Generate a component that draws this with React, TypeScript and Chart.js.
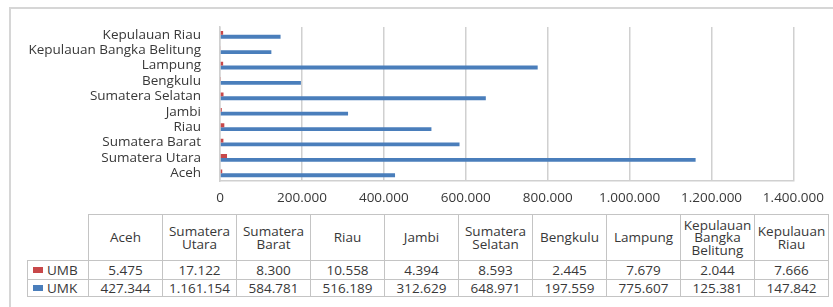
import React, { useEffect, useRef } from "react";
import { Chart, registerables } from "chart.js";

Chart.register(...registerables);

const categories = [
  "Aceh",
  "Sumatera Utara",
  "Sumatera Barat",
  "Riau",
  "Jambi",
  "Sumatera Selatan",
  "Bengkulu",
  "Lampung",
  "Kepulauan Bangka Belitung",
  "Kepulauan Riau",
];
const umb = [5475, 17122, 8300, 10558, 4394, 8593, 2445, 7679, 2044, 7666];
const umk = [427344, 1161154, 584781, 516189, 312629, 648971, 197559, 775607, 125381, 147842];
const xMax = 1400000;
const xStep = 200000;

const seriesNames = ["UMB", "UMK"];
const seriesColors = ["#C8484A", "#4A7EBB"];

const FONT = "'Open Sans', sans-serif";
const TEXT = "#383838";
const GRID = "#d0d0d0";

function fmt(n: number): string {
  return String(Math.round(n)).replace(/\B(?=(\d{3})+(?!\d))/g, ".");
}

export default function App() {
  const ref = useRef<HTMLCanvasElement | null>(null);

  useEffect(() => {
    document.body.style.margin = "0";
    if (!ref.current) return;
    const labels = categories.slice().reverse();
    const chart = new Chart(ref.current, {
      type: "bar",
      data: {
        labels,
        datasets: [
          {
            label: seriesNames[0],
            data: umb.slice().reverse(),
            backgroundColor: seriesColors[0],
            categoryPercentage: 0.5,
            barPercentage: 1,
          },
          {
            label: seriesNames[1],
            data: umk.slice().reverse(),
            backgroundColor: seriesColors[1],
            categoryPercentage: 0.5,
            barPercentage: 1,
          },
        ],
      },
      options: {
        indexAxis: "y",
        animation: false,
        responsive: false,
        devicePixelRatio: 1,
        layout: { padding: { top: 23, right: 38, left: 0, bottom: 0 } },
        plugins: { legend: { display: false }, tooltip: { enabled: false } },
        scales: {
          x: {
            min: 0,
            max: xMax,
            ticks: {
              stepSize: xStep,
              padding: 9,
              autoSkip: false,
              color: TEXT,
              font: { family: FONT, size: 13.5 },
              maxRotation: 0,
              callback: (v: any) => fmt(Number(v)),
            },
            grid: { color: GRID, lineWidth: 1.5, drawTicks: false },
            border: { display: true, color: GRID, width: 1.5 },
            afterFit: (s: any) => {
              s.height = 31;
            },
          },
          y: {
            ticks: {
              padding: 19,
              autoSkip: false,
              color: TEXT,
              font: { family: FONT, size: 13.5 },
            },
            grid: { display: false, drawTicks: false },
            border: { display: true, color: GRID, width: 1.5 },
            afterFit: (s: any) => {
              s.width = 220;
            },
          },
        },
      },
    });
    return () => chart.destroy();
  }, []);

  const cellBorder = "1px solid #c4c4c4";
  const cell: React.CSSProperties = {
    border: cellBorder,
    width: 73,
    padding: 0,
    textAlign: "center",
    verticalAlign: "middle",
    fontFamily: FONT,
    fontSize: 13.5,
    color: TEXT,
    lineHeight: "12.5px",
    whiteSpace: "nowrap",
  };

  const seriesValues = [umb, umk];

  return (
    <div style={{ position: "relative", width: 833, height: 307, overflow: "hidden", background: "#fff" }}>
      <div
        style={{
          position: "absolute",
          left: 9,
          top: 7,
          width: 900,
          height: 400,
          borderLeft: "2px solid #d6d6d6",
          borderTop: "2px solid #d6d6d6",
        }}
      />
      <canvas
        ref={ref}
        width={833}
        height={212}
        style={{ position: "absolute", left: 0, top: 0, width: 833, height: 212 }}
      />
      <table
        style={{
          position: "absolute",
          left: 27,
          top: 214,
          borderCollapse: "collapse",
          tableLayout: "fixed",
          width: 801,
        }}
      >
        <colgroup>
          <col style={{ width: 61 }} />
          {categories.map((c) => (
            <col key={c} style={{ width: 74 }} />
          ))}
        </colgroup>
        <tbody>
          <tr style={{ height: 46 }}>
            <td style={{ ...cell, borderTop: "none", borderLeft: "none" }} />
            {categories.map((c) => (
              <td key={c} style={cell}>
                {c.split(" ").map((w, i) => (
                  <React.Fragment key={i}>
                    {i > 0 && <br />}
                    {w}
                  </React.Fragment>
                ))}
              </td>
            ))}
          </tr>
          {seriesNames.map((name, si) => (
            <tr key={name} style={{ height: si === 0 ? 19 : 17 }}>
              <td style={{ ...cell, textAlign: "left", paddingLeft: 5 }}>
                <span
                  style={{
                    display: "inline-block",
                    width: 10,
                    height: 6,
                    background: seriesColors[si],
                    marginRight: 4,
                    verticalAlign: "middle",
                    position: "relative",
                    top: -1,
                  }}
                />
                {name}
              </td>
              {seriesValues[si].map((v, i) => (
                <td key={i} style={cell}>
                  {fmt(v)}
                </td>
              ))}
            </tr>
          ))}
        </tbody>
      </table>
    </div>
  );
}
